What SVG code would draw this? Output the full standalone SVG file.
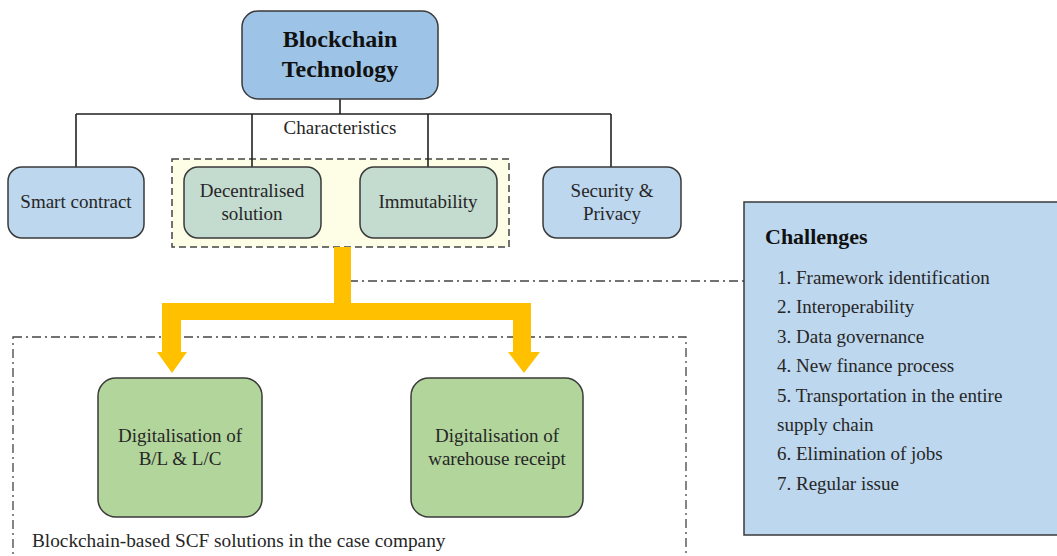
<svg xmlns="http://www.w3.org/2000/svg" width="1057" height="556" viewBox="0 0 1057 556">
<style>
.t{font-family:"Liberation Serif","Times New Roman",serif;font-size:19px;fill:#262626}
.b{font-family:"Liberation Serif","Times New Roman",serif;font-weight:bold;fill:#111}
.box{stroke:#3a3a3a;stroke-width:1.5}
.blue{fill:#bdd7ee}
.sage{fill:#c4dbd0}
.green{fill:#b2d59b}
.conn{fill:none;stroke:#222;stroke-width:1.6}
.dd{fill:none;stroke:#444;stroke-width:1.3;stroke-dasharray:9 4 2 4}
</style>
<rect width="1057" height="556" fill="#fff"/>
<g id="scf-area">
<rect x="13" y="337" width="673" height="240" fill="#f8faf5" class="dd"/>
<text class="t" x="32" y="547" style="font-size:19.3px">Blockchain-based SCF solutions in the case company</text>
</g>
<g id="characteristics-group">
<rect x="172" y="159" width="337" height="88" fill="#fefde6" stroke="#444" stroke-width="1.5" stroke-dasharray="7 4"/>
</g>
<g id="connectors">
<path class="conn" d="M340 99V114M76 114H611M76 114V167M252 114V167M428 114V167M611 114V167"/>
<line class="dd" x1="349" y1="281" x2="744" y2="281"/>
<path fill="#ffc000" d="M334 247H351V303H531V352H540L524 373L508 352H513V320H181V352H187L172 373L157 352H162V303H334Z"/>
</g>
<text class="t" x="340" y="134" text-anchor="middle">Characteristics</text>
<g id="blockchain">
<rect class="box" x="242" y="11" width="196" height="88" rx="16" fill="#9dc3e6"/>
<text class="b" x="340" y="47" text-anchor="middle" font-size="24">Blockchain</text>
<text class="b" x="340" y="77" text-anchor="middle" font-size="24">Technology</text>
</g>
<g id="smart-contract">
<rect class="box blue" x="8" y="167" width="136" height="71" rx="14"/>
<text class="t" x="76" y="208" text-anchor="middle">Smart contract</text>
</g>
<g id="decentralised">
<rect class="box sage" x="184" y="167" width="137" height="71" rx="14"/>
<text class="t" x="252" y="197" text-anchor="middle">Decentralised</text>
<text class="t" x="252" y="220" text-anchor="middle">solution</text>
</g>
<g id="immutability">
<rect class="box sage" x="360" y="167" width="137" height="71" rx="14"/>
<text class="t" x="428" y="208" text-anchor="middle">Immutability</text>
</g>
<g id="security">
<rect class="box blue" x="543" y="167" width="138" height="71" rx="14"/>
<text class="t" x="612" y="197" text-anchor="middle">Security &amp;</text>
<text class="t" x="612" y="220" text-anchor="middle">Privacy</text>
</g>
<g id="challenges">
<rect class="box blue" x="744" y="202" width="330" height="333"/>
<text class="b" x="765" y="244" font-size="22">Challenges</text>
<text class="t" x="777" y="284">1. Framework identification</text>
<text class="t" x="777" y="313">2. Interoperability</text>
<text class="t" x="777" y="343">3. Data governance</text>
<text class="t" x="777" y="372">4. New finance process</text>
<text class="t" x="777" y="402">5. Transportation in the entire</text>
<text class="t" x="777" y="431">supply chain</text>
<text class="t" x="777" y="460">6. Elimination of jobs</text>
<text class="t" x="777" y="490">7. Regular issue</text>
</g>
<g id="digital-bl-lc">
<rect class="box green" x="98" y="378" width="164" height="139" rx="18"/>
<text class="t" x="180" y="442" text-anchor="middle">Digitalisation of</text>
<text class="t" x="180" y="465" text-anchor="middle">B/L &amp; L/C</text>
</g>
<g id="digital-warehouse">
<rect class="box green" x="411" y="378" width="172" height="139" rx="18"/>
<text class="t" x="497" y="442" text-anchor="middle">Digitalisation of</text>
<text class="t" x="497" y="465" text-anchor="middle">warehouse receipt</text>
</g>
</svg>
